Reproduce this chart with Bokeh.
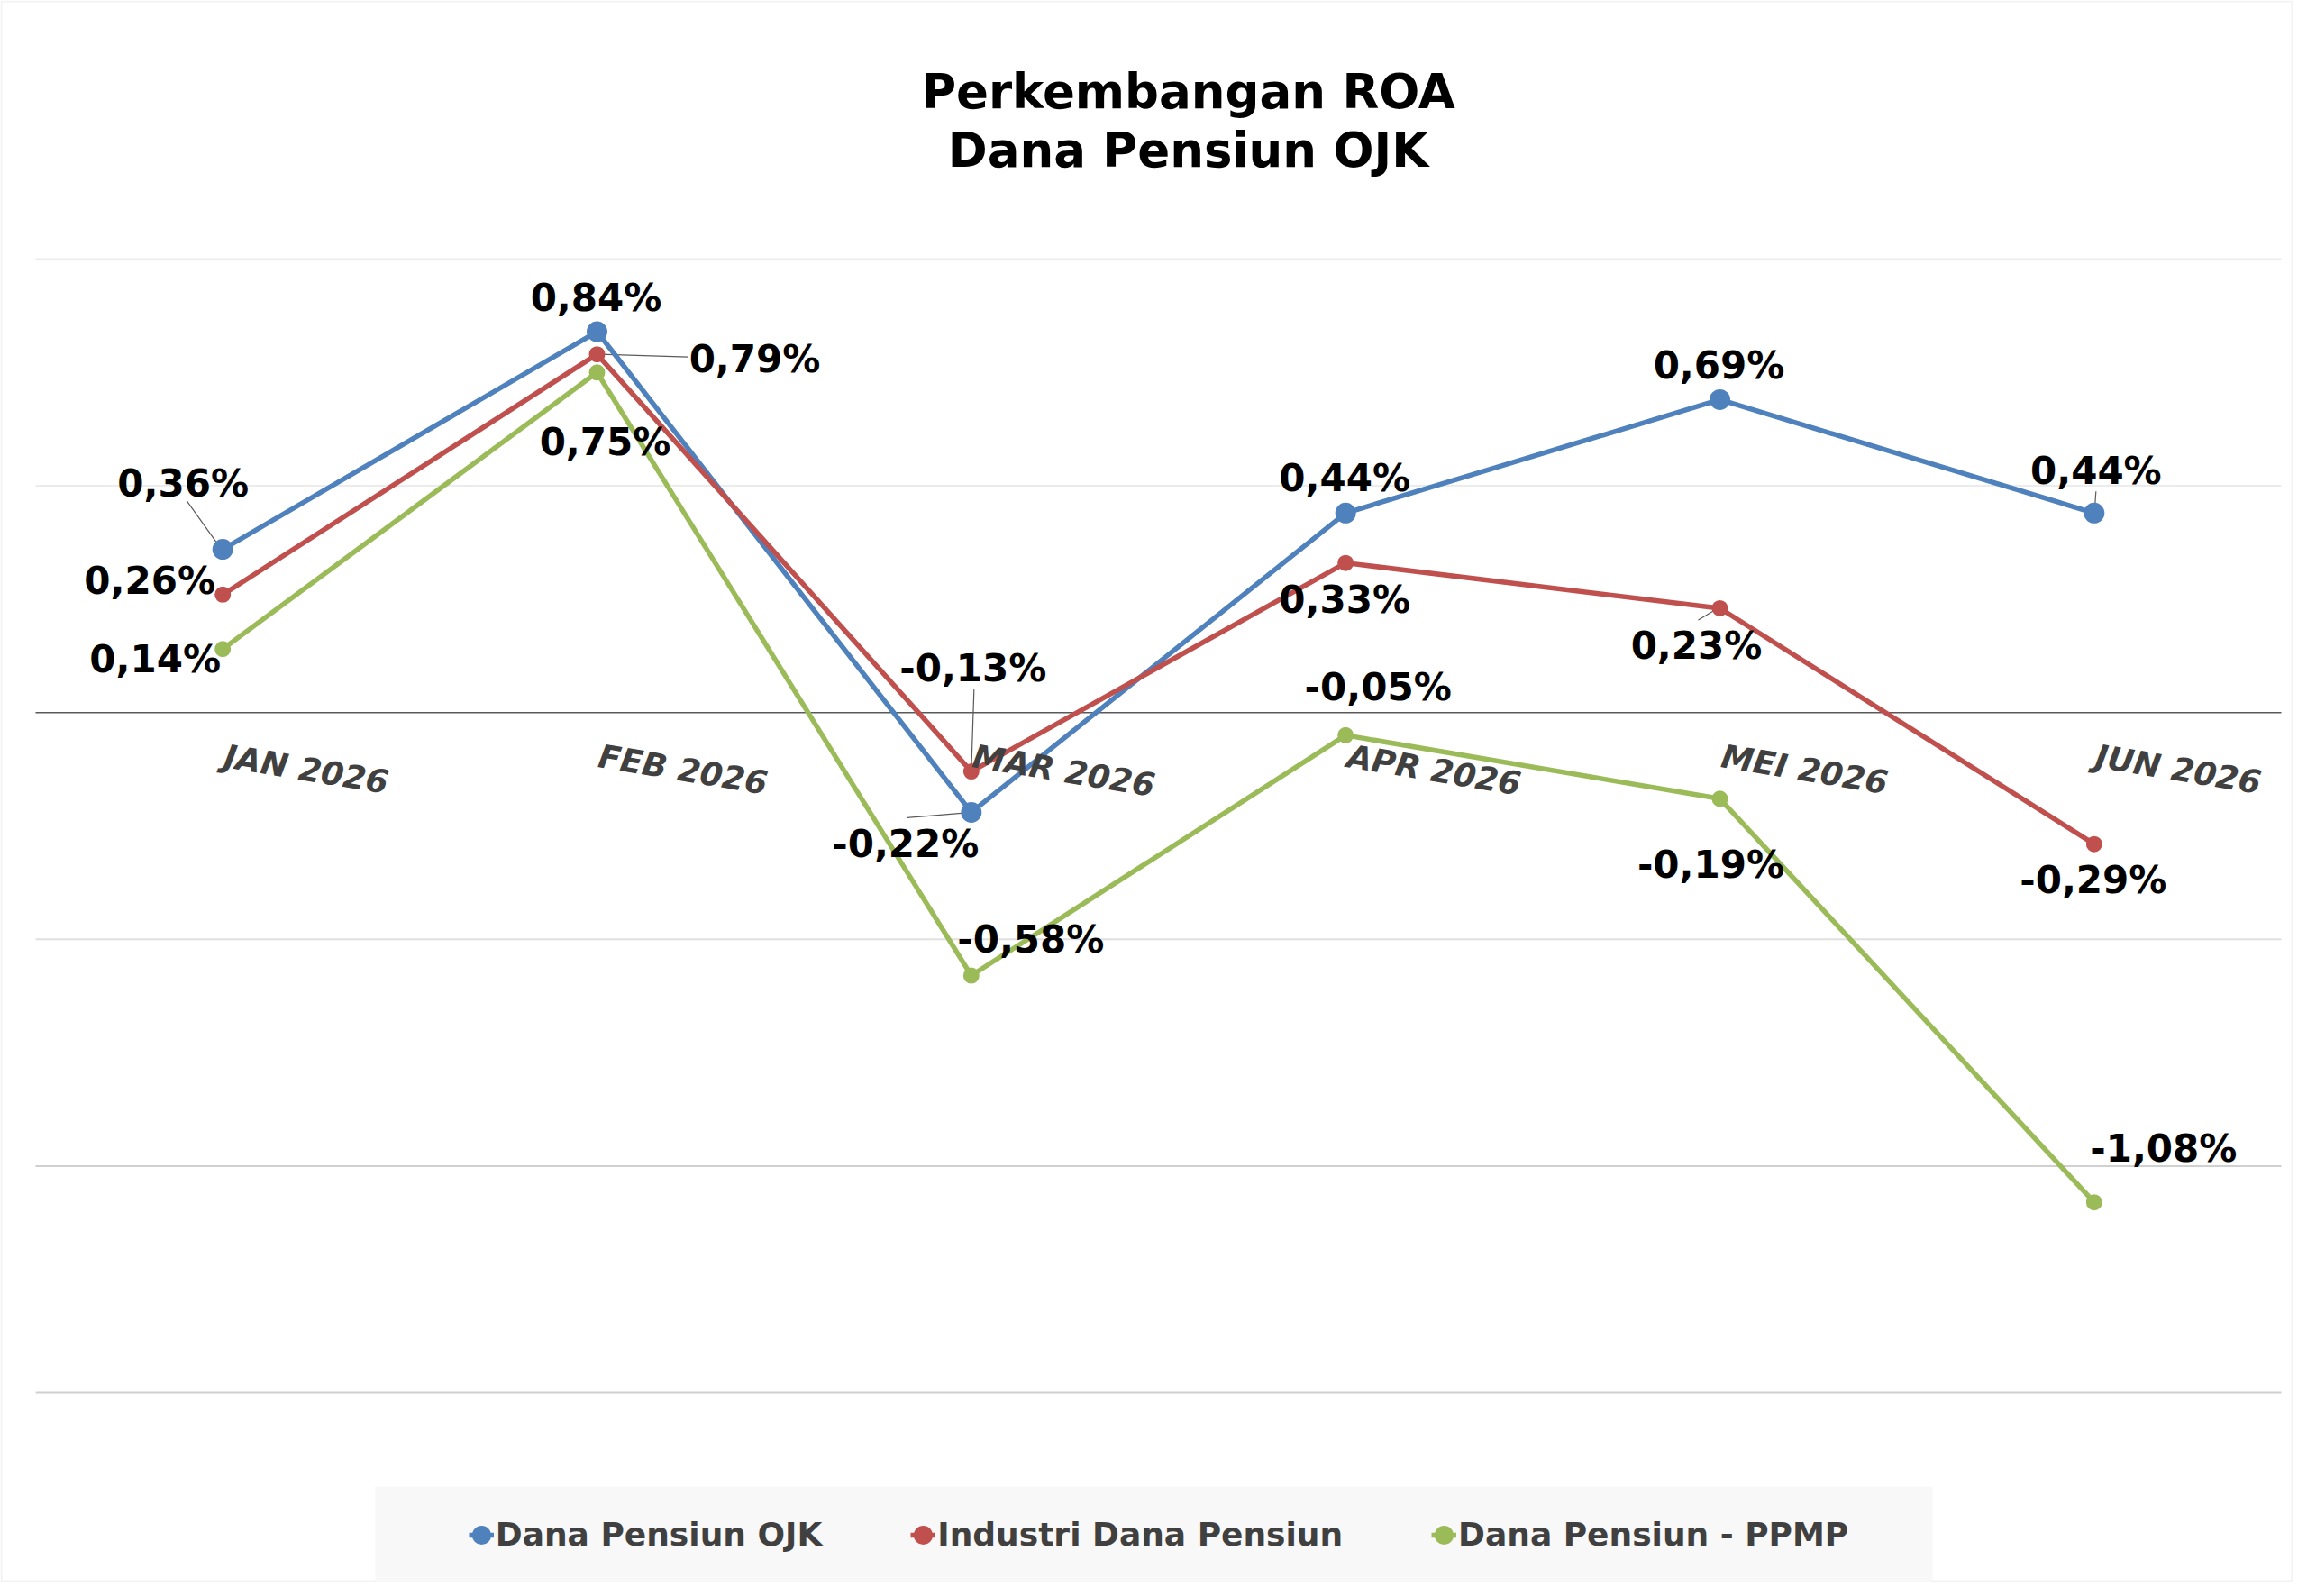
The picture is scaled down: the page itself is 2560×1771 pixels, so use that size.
from bokeh.plotting import figure
from bokeh.models import (ColumnDataSource, Range1d, Label, Legend, LegendItem, BoxAnnotation)
from bokeh.core.properties import value
from bokeh.embed import file_html
from bokeh.resources import INLINE

# ---------------- data ----------------
months = ["JAN 2026", "FEB 2026", "MAR 2026", "APR 2026", "MEI 2026", "JUN 2026"]
series_names = ["Dana Pensiun OJK", "Industri Dana Pensiun", "Dana Pensiun - PPMP"]
roa_ojk = [0.36, 0.84, -0.22, 0.44, 0.69, 0.44]
roa_industri = [0.26, 0.79, -0.13, 0.33, 0.23, -0.29]
roa_ppmp = [0.14, 0.75, -0.58, -0.05, -0.19, -1.08]
title_lines = ["Perkembangan ROA", "Dana Pensiun OJK"]
y_min, y_max = -1.5, 1.0
grid_ticks_light = [1.0, 0.5]
grid_ticks_mid = [-0.5]
grid_ticks_dark = [-1.0, -1.5]

# ---------------- styles ----------------
colors = ["#4F81BD", "#C0504D", "#9BBB59"]
marker_diam = [23, 18, 18]
MARKER_LW = 10
LINE_W = 5.5
FONT = "DejaVu Sans"

# data-label offsets in pixels (dx, dy; dy down)
label_dx = [
    [-44, -1, -73, -1, -1, 2],
    [-81, 175, 2, -1, -26, -1],
    [-75, 9, 66, 36, -10, 77],
]
label_dy = [
    [-73, -38, 35, -39, -38, -47],
    [-15, 5, -115, 41, 42, 40],
    [11, 77, -40, -53, 73, -60],
]
# leader lines: (series, point, start dx, start dy, end dx, end dy) in pixels
leaders = [
    (0, 0, -40, -54, -5, -5),
    (1, 1, 101, 3, 3, 0),
    (0, 2, -71, 6, -11, 1),
    (1, 2, 3, -91, 0, -1),
    (1, 4, -24, 13, -4, 1),
    (0, 5, 2, -24, 1, -10),
]

# ---------------- geometry (reference pixel coordinates) ----------------
W, H = 2544, 1755
PAGE = 0
PLOT_L, PLOT_R, PLOT_T, PLOT_B = 39, 2531, 287, 1545
n = len(months)
px_per_x = (PLOT_R - PLOT_L) / n
px_per_y = (PLOT_B - PLOT_T) / (y_max - y_min)
x_start = (PAGE - PLOT_L) / px_per_x
x_end = (PAGE + W - PLOT_L) / px_per_x
y_end = y_max + (PLOT_T - PAGE) / px_per_y
y_start = y_min - (PAGE + H - PLOT_B) / px_per_y

p = figure(width=W, height=H,
           x_range=Range1d(x_start, x_end), y_range=Range1d(y_start, y_end),
           min_border=0, min_border_left=0, min_border_right=0,
           min_border_top=0, min_border_bottom=0,
           x_axis_location=None, y_axis_location=None,
           output_backend="svg", toolbar_location=None,
           background_fill_color="white", border_fill_color="white",
           outline_line_color=None)
p.xgrid.visible = False
p.ygrid.visible = False


def sx(xr):
    return xr - PAGE


def sy(yr):
    return PAGE + H - yr


positions = [i + 0.5 for i in range(n)]

# grid lines (span only the plot area)
for ticks, col in ((grid_ticks_light, "#ececec"), (grid_ticks_mid, "#e0e0e0"), (grid_ticks_dark, "#d0d0d0")):
    p.segment(x0=[0] * len(ticks), x1=[n] * len(ticks), y0=ticks, y1=ticks, line_color=col, line_width=2)

# zero (category axis) line
p.segment(x0=[0], x1=[n], y0=[0], y1=[0], line_color="#595959", line_width=1.6)

# outer chart border
p.add_layout(BoxAnnotation(left=sx(PAGE + 1), right=sx(W + PAGE - 1), top=sy(PAGE + 1), bottom=sy(H + PAGE - 1),
                           left_units="screen", right_units="screen", top_units="screen", bottom_units="screen",
                           fill_alpha=0, line_color="#d4d4d4", line_width=2))

# legend background box
p.add_layout(BoxAnnotation(left=sx(416), right=sx(2144), top=sy(1649), bottom=sy(1758),
                           left_units="screen", right_units="screen", top_units="screen", bottom_units="screen",
                           fill_color="#f8f8f8", fill_alpha=1, line_color=None))

all_series = [roa_ojk, roa_industri, roa_ppmp]

# leader lines
lx0, ly0, lx1, ly1 = [], [], [], []
for s, i, sdx, sdy, edx, edy in leaders:
    v = all_series[s][i]
    lx0.append(positions[i] + sdx / px_per_x)
    ly0.append(v - sdy / px_per_y)
    lx1.append(positions[i] + edx / px_per_x)
    ly1.append(v - edy / px_per_y)
p.segment(x0=lx0, y0=ly0, x1=lx1, y1=ly1, line_color="#5a5a5a", line_width=1.2)

legend_items = []
for k, vals in enumerate(all_series):
    src = ColumnDataSource(data=dict(x=positions, y=vals, month=months))
    lr = p.line(x="x", y="y", source=src, line_color=colors[k], line_width=LINE_W, line_join="round")
    sr = p.scatter(x="x", y="y", source=src, marker="circle", size=marker_diam[k] - MARKER_LW,
                   fill_color=colors[k], line_color=colors[k], line_width=MARKER_LW)
    legend_items.append(LegendItem(label=series_names[k], renderers=[lr, sr]))

# data labels
for k, vals in enumerate(all_series):
    texts = [("%.2f" % v).replace(".", ",") + "%" for v in vals]
    src = ColumnDataSource(data=dict(x=positions, y=vals, text=texts, dx=label_dx[k], dy=label_dy[k]))
    p.text(x="x", y="y", text="text", x_offset="dx", y_offset="dy", source=src,
           text_align="center", text_baseline="middle", text_font=value(FONT),
           text_font_style="bold", text_font_size="42px", text_color="#000000")

# category labels sitting under the zero line
axis_y = [0.0] * n
p.text(x=positions, y=axis_y, text=months, angle=-0.163, x_offset=2, y_offset=48,
       text_align="left", text_baseline="alphabetic", text_font=value(FONT),
       text_font_style="bold italic", text_font_size="36px", text_color="#404040")

# title
for line, yr in zip(title_lines, [101, 166]):
    p.add_layout(Label(x=sx(1318), y=sy(yr), x_units="screen", y_units="screen", text=line,
                       text_align="center", text_baseline="middle", text_font=FONT,
                       text_font_style="bold", text_font_size="53px", text_color="#000000"))

legend = Legend(items=legend_items, orientation="horizontal",
                location=(sx(519.8), sy(1723)), padding=0, margin=0, spacing=98,
                glyph_width=28, glyph_height=28, label_standoff=2,
                label_text_font=FONT, label_text_font_style="bold", label_text_font_size="36px",
                label_text_color="#404040", background_fill_alpha=0, border_line_color=None)
p.add_layout(legend, "center")

open("out.html", "w").write(file_html(p, INLINE))
